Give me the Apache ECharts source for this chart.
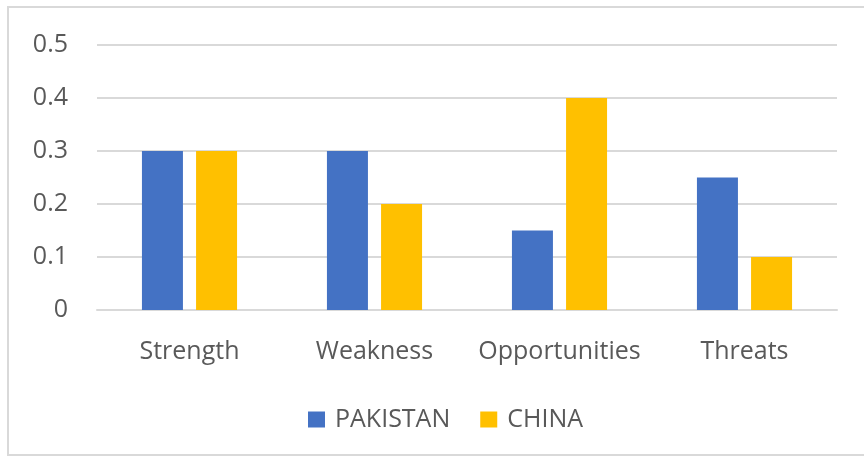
<!DOCTYPE html>
<html>
<head>
<meta charset="utf-8">
<script src="https://cdn.jsdelivr.net/npm/echarts@6/dist/echarts.min.js"></script>
<style>
html,body{margin:0;padding:0;background:#fff;}
#main{width:864px;height:460px;}
</style>
</head>
<body>
<div id="main"></div>
<script>
// data
var categories = ['Strength', 'Weakness', 'Opportunities', 'Threats'];
var pakistan = [0.3, 0.3, 0.15, 0.25];
var china = [0.3, 0.2, 0.4, 0.1];
var yTicks = [0, 0.1, 0.2, 0.3, 0.4, 0.5];

var textColor = '#595959';
var font = '"Open Sans", sans-serif';

var option = {
	animation: false,
	backgroundColor: '#fff',
	graphic: [{
		type: 'rect',
		shape: {x: 8, y: 7, width: 870, height: 448},
		style: {fill: 'none', stroke: '#d9d9d9', lineWidth: 2},
		silent: true
	}],
	grid: {left: 97, right: 27, top: 45, bottom: 150},
	legend: {
		data: ['PAKISTAN', 'CHINA'],
		top: 402,
		left: 303,
		icon: 'rect',
		itemWidth: 17,
		itemHeight: 16,
		itemGap: 30,
		textStyle: {color: textColor, fontSize: 25, fontFamily: font, padding: [0, 0, 0, 5]}
	},
	xAxis: {
		type: 'category',
		data: categories,
		axisLine: {lineStyle: {color: '#d9d9d9', width: 2}},
		axisTick: {show: false},
		axisLabel: {color: textColor, fontSize: 25, fontFamily: font, margin: 29, interval: 0}
	},
	yAxis: {
		type: 'value',
		min: yTicks[0],
		max: yTicks[yTicks.length - 1],
		interval: 0.1,
		axisLine: {show: false},
		axisTick: {show: false},
		splitLine: {lineStyle: {color: '#d9d9d9', width: 2}},
		axisLabel: {color: textColor, fontSize: 25, fontFamily: font, margin: 29}
	},
	series: [{
		name: 'PAKISTAN',
		type: 'bar',
		data: pakistan,
		barWidth: 41,
		barGap: '32%',
		itemStyle: {color: '#4472C4'}
	}, {
		name: 'CHINA',
		type: 'bar',
		data: china,
		barWidth: 41,
		itemStyle: {color: '#FFC000'}
	}]
};

var chart = echarts.init(document.getElementById('main'));
chart.setOption(option);
</script>
</body>
</html>
